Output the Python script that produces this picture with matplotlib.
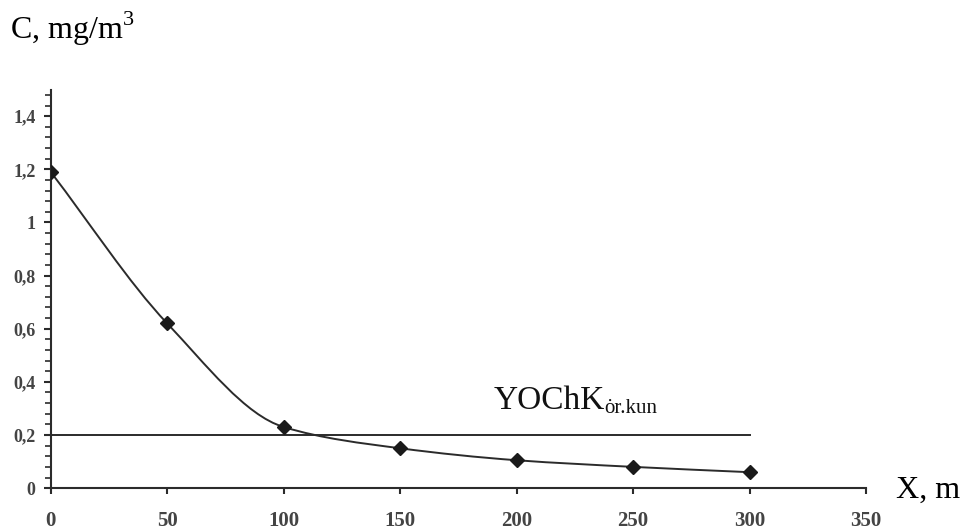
import numpy as np
import matplotlib.pyplot as plt
from matplotlib.path import Path
from matplotlib.patches import PathPatch

# --- data ---
distance = [0, 50, 100, 150, 200, 250, 300]          # X, m
concentration = [1.19, 0.62, 0.23, 0.15, 0.105, 0.08, 0.06]  # C, mg/m3
limit_value = 0.2                                     # YOChK line
limit_span = [0, 300]
x_ticks = [0, 50, 100, 150, 200, 250, 300, 350]
y_ticks = [0, 0.2, 0.4, 0.6, 0.8, 1.0, 1.2, 1.4]
y_tick_labels = ['0', '0,2', '0,4', '0,6', '0,8', '1', '1,2', '1,4']

plt.rcParams['font.family'] = ['Liberation Serif', 'DejaVu Serif']
plt.rcParams['mathtext.fontset'] = 'custom'
plt.rcParams['mathtext.rm'] = 'Liberation Serif'
line_col = '#2b2b2b'


def smooth_path(x, y):
    # monotone cubic hermite (Fritsch-Carlson) as bezier segments
    x = np.asarray(x, float)
    y = np.asarray(y, float)
    h = np.diff(x)
    d = np.diff(y) / h
    m = np.zeros_like(y)
    m[0], m[-1] = d[0], d[-1]
    for i in range(1, len(x) - 1):
        if d[i - 1] * d[i] <= 0:
            m[i] = 0
        else:
            w1 = 2 * h[i] + h[i - 1]
            w2 = h[i] + 2 * h[i - 1]
            m[i] = (w1 + w2) / (w1 / d[i - 1] + w2 / d[i])
    verts = [(x[0], y[0])]
    codes = [Path.MOVETO]
    for i in range(len(x) - 1):
        verts += [(x[i] + h[i] / 3, y[i] + m[i] * h[i] / 3),
                  (x[i + 1] - h[i] / 3, y[i + 1] - m[i + 1] * h[i] / 3),
                  (x[i + 1], y[i + 1])]
        codes += [Path.CURVE4] * 3
    return Path(verts, codes)


fig = plt.figure(figsize=(9.66, 5.3), dpi=100)
ax = fig.add_axes([0.0525, 0.079, 0.8440, 0.752])

ax.add_patch(PathPatch(smooth_path(distance, concentration), fill=False,
                       edgecolor=line_col, lw=1.4, zorder=3))
ax.plot(distance, concentration, linestyle='none', marker='D', ms=7,
        color='#1a1a1a', zorder=4)
ax.plot(limit_span, [limit_value, limit_value], color=line_col, lw=1.4)

# label of the limit line with a subscript
main = ax.text(190, 0.298, 'YOChK', fontsize=24, color='#111111',
               va='baseline')
ax.annotate('ȯr.kun', xy=(1, 0), xycoords=main, xytext=(0, 2),
            textcoords='offset points', fontsize=15, color='#111111',
            ha='left', va='baseline')

ax.set_xlim(0, 350)
ax.set_ylim(0, 1.5)
ax.set_xticks(x_ticks)
ax.set_xticklabels([str(v) for v in x_ticks])
ax.set_yticks(y_ticks)
ax.set_yticklabels(y_tick_labels)
ax.set_yticks(np.arange(0, 1.5, 0.04), minor=True)

for s in ['top', 'right']:
    ax.spines[s].set_visible(False)
for s in ['left', 'bottom']:
    ax.spines[s].set_color(line_col)
    ax.spines[s].set_linewidth(1.5)

ax.tick_params(axis='x', direction='out', length=4.5, width=1.5, pad=12,
               colors=line_col, labelsize=15)
ax.tick_params(axis='y', which='major', direction='out', length=5, width=1.5,
               pad=6, colors=line_col, labelsize=13)
ax.tick_params(axis='y', which='minor', direction='out', length=4, width=1.2,
               colors=line_col)
for lab in ax.get_xticklabels() + ax.get_yticklabels():
    lab.set_fontweight('bold')
    lab.set_color('#444444')

fig.text(0.010, 0.945, r'C, mg/m$^{\mathregular{3}}$', fontsize=23,
         va='center', ha='left')
fig.text(0.928, 0.075, 'X, m', fontsize=23, va='center', ha='left')

fig.savefig('out.png', dpi=100)
